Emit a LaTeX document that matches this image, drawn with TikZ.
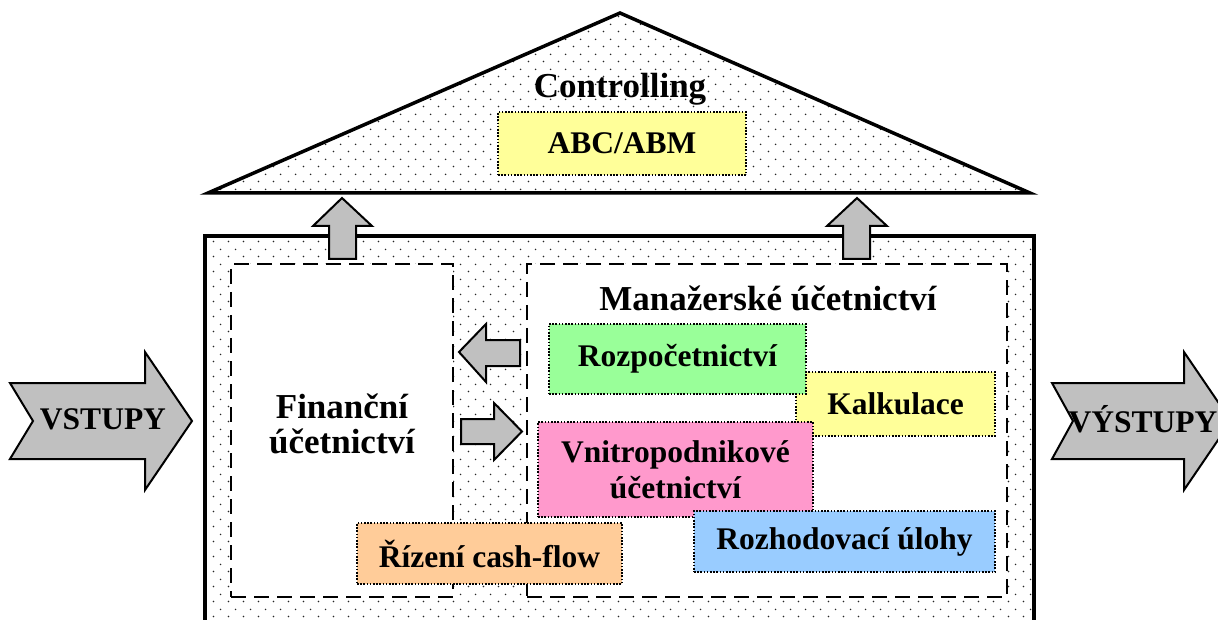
\documentclass[tikz,border=0pt]{standalone}
\usepackage{fontspec}
\setmainfont{Liberation Serif}
\usetikzlibrary{patterns}

% sparse staggered dot texture for the roof and the house body
\pgfdeclarepatternformonly{sparsedots}{\pgfpointorigin}{\pgfpoint{15pt}{15pt}}{\pgfpoint{15pt}{15pt}}{%
  \pgfpathcircle{\pgfpoint{3.75pt}{3.75pt}}{0.9pt}%
  \pgfpathcircle{\pgfpoint{11.25pt}{11.25pt}}{0.9pt}%
  \pgfusepath{fill}}

\definecolor{cyellow}{HTML}{FFFF99}
\definecolor{cgreen}{HTML}{99FF99}
\definecolor{cpink}{HTML}{FF99CC}
\definecolor{cblue}{HTML}{99CCFF}
\definecolor{corange}{HTML}{FFCC99}
\definecolor{arrowgray}{HTML}{C0C0C0}

\newcommand\headfont{\fontsize{35}{35}\selectfont\bfseries}
\newcommand\boxfont{\fontsize{31.5}{36}\selectfont\bfseries}

\tikzset{
  dotfill/.style={pattern=sparsedots, pattern color=black!85},
  blockarrow/.style={fill=arrowgray, draw=black, line width=2pt, line join=miter},
  innerbox/.style={fill=white, draw=black, line width=1.8pt, dash pattern=on 15pt off 8pt},
  cbox/.style={draw=black, line width=1.6pt, dash pattern=on 1.6pt off 1.6pt,
    align=center, inner sep=0pt, font=\boxfont},
  headlabel/.style={align=center, inner sep=0pt, font=\headfont},
}

\begin{document}
\begin{tikzpicture}[x=1pt, y=-1pt]
\useasboundingbox (0,0) rectangle (1218,620);
\clip (0,0) rectangle (1218,620);

% roof
\fill[white] (620,13) -- (1030,193) -- (208,193) -- cycle;
\fill[dotfill] (620,13) -- (1030,193) -- (208,193) -- cycle;
\draw[line width=3.5pt, line join=miter] (620,13) -- (1030,193) -- (208,193) -- cycle;

% house body
\fill[white] (205,236) rectangle (1034,630);
\fill[dotfill] (205,236) rectangle (1034,630);
\draw[line width=3.5pt, line join=miter] (205,630) -- (205,236) -- (1034,236) -- (1034,630);

% financial and managerial accounting areas
\node[innerbox, minimum width=222pt, minimum height=333pt] (fin) at (342,430.5) {};
\node[innerbox, minimum width=480pt, minimum height=333pt] (man) at (767,430.5) {};

% arrows up into the roof
\draw[blockarrow] (342,198) -- (372,226) -- (356,226) -- (356,259) -- (329,259) -- (329,226) -- (313,226) -- cycle;
\draw[blockarrow] (857,198) -- (887,226) -- (870,226) -- (870,259) -- (843,259) -- (843,226) -- (827,226) -- cycle;

% exchange arrows between the two areas
\draw[blockarrow] (459,352) -- (486,324) -- (486,340) -- (520,340) -- (520,366) -- (486,366) -- (486,382) -- cycle;
\draw[blockarrow] (522,431.5) -- (494,403) -- (494,419) -- (461,419) -- (461,444) -- (494,444) -- (494,460) -- cycle;

% coloured topic boxes
\node[cbox, fill=cyellow, minimum width=248pt, minimum height=63pt] (abc) at (622,143.5) {ABC/ABM};
\node[cbox, fill=cyellow, minimum width=199pt, minimum height=64pt] (kalk) at (895.5,404) {Kalkulace};
\node[cbox, fill=cgreen, minimum width=257pt, minimum height=70pt] (rozp) at (677.5,359) {Rozpočetnictví};
\node[cbox, fill=cpink, minimum width=275pt, minimum height=95pt] (vnitro) at (675.5,469.5) {Vnitropodnikové\\účetnictví};
\node[cbox, fill=cblue, minimum width=301pt, minimum height=61pt] (rozh) at (844.5,541.5) {Rozhodovací úlohy};
\node[cbox, fill=corange, minimum width=265pt, minimum height=61pt] (cash) at (489.5,553.5) {Řízení cash-flow};

% headings
\node[headlabel] (ctrl) at (620,89) {Controlling};
\node[headlabel] (manlbl) at (768,298) {Manažerské účetnictví};
\node[headlabel] (finlbl) at (342,424) {Finanční\\účetnictví};

% inputs and outputs
\draw[blockarrow] (10,383) -- (145,383) -- (145,352) -- (192,421) -- (145,490) -- (145,459) -- (10,459) -- (33,421) -- cycle;
\node[inner sep=0pt, font=\boxfont] (in) at (103,419) {VSTUPY};
\draw[blockarrow] (1052,383) -- (1184,383) -- (1184,352) -- (1231,421) -- (1184,490) -- (1184,459) -- (1052,459) -- (1073,421) -- cycle;
\node[inner sep=0pt, font=\boxfont] (out) at (1143,419) {VÝSTUPY};
\end{tikzpicture}
\end{document}
